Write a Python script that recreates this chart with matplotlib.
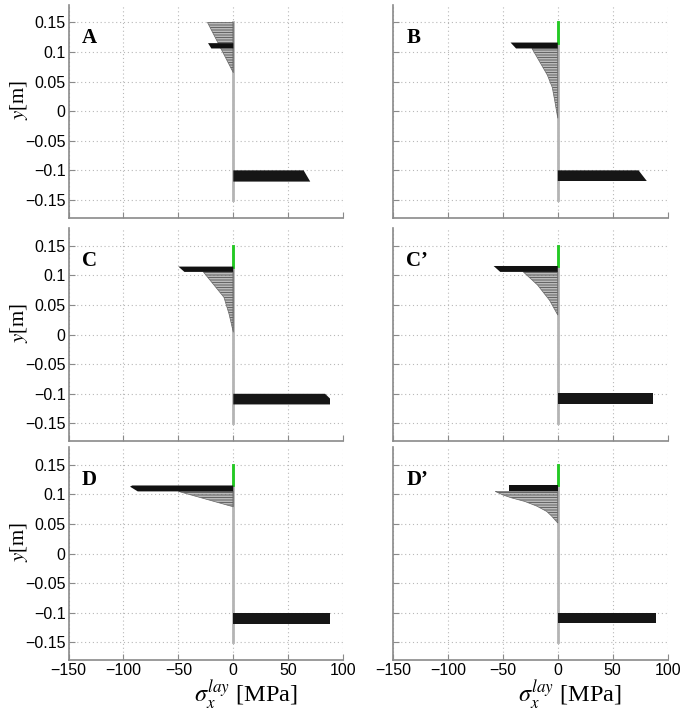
import matplotlib
matplotlib.use("Agg")
import matplotlib.pyplot as plt

# ── Data (y in m, stress in MPa) ────────────────────────────────────────────
panel_names = ["A", "B", "C", "C\u2019", "D", "D\u2019"]

# concrete compression profile (hatched region)
conc_y_A = [0.150, 0.065]
conc_s_A = [-23.5, 0.0]
conc_y_B = [0.106, 0.061, 0.040, 0.020, -0.012]
conc_s_B = [-23.5, -9.5, -5.0, -3.0, 0.0]
conc_y_C = [0.106, 0.063, 0.035, 0.004]
conc_s_C = [-27.3, -8.5, -3.9, 0.0]
conc_y_Cp = [0.106, 0.084, 0.058, 0.033]
conc_s_Cp = [-31.4, -18.5, -7.5, 0.0]
conc_y_D = [0.105, 0.093, 0.0815, 0.079]
conc_s_D = [-50.0, -27.0, -5.0, 0.0]
conc_y_Dp = [0.105, 0.099, 0.094, 0.088, 0.080, 0.071, 0.063, 0.0515]
conc_s_Dp = [-57.0, -50.0, -42.0, -30.0, -19.0, -10.0, -5.5, 0.0]

# top reinforcement layer
top_y_A = [0.115, 0.106]
top_s_A = [-23.0, -20.0]
top_y_B = [0.116, 0.106]
top_s_B = [-43.0, -38.0]
top_y_C = [0.115, 0.106]
top_s_C = [-50.0, -44.5]
top_y_Cp = [0.116, 0.106]
top_s_Cp = [-58.4, -52.4]
top_y_D = [0.115, 0.113, 0.105]
top_s_D = [-92.0, -94.0, -87.0]
top_y_Dp = [0.116, 0.105]
top_s_Dp = [-44.2, -44.2]

# bottom reinforcement layer
bot_y_A = [-0.100, -0.119]
bot_s_A = [64.0, 70.0]
bot_y_B = [-0.100, -0.118]
bot_s_B = [73.5, 81.0]
bot_y_C = [-0.100, -0.108, -0.118]
bot_s_C = [83.5, 88.0, 88.0]
bot_y_Cp = [-0.099, -0.117]
bot_s_Cp = [86.8, 86.8]
bot_y_D = [-0.101, -0.119]
bot_s_D = [88.0, 88.0]
bot_y_Dp = [-0.100, -0.118]
bot_s_Dp = [89.6, 89.6]

# unstressed top layer (green), None where absent
green_y = [None, (0.115, 0.150), (0.115, 0.150), (0.116, 0.150),
           (0.115, 0.150), (0.115, 0.150)]

x_ticks = [-150, -100, -50, 0, 50, 100]
x_ticklabels = ["\u2212150", "\u2212100", "\u221250", "0", "50", "100"]
y_ticks = [0.15, 0.1, 0.05, 0, -0.05, -0.1, -0.15]
y_ticklabels = ["0.15", "0.1", "0.05", "0", "\u22120.05", "\u22120.1", "\u22120.15"]

conc = [(conc_y_A, conc_s_A), (conc_y_B, conc_s_B), (conc_y_C, conc_s_C),
        (conc_y_Cp, conc_s_Cp), (conc_y_D, conc_s_D), (conc_y_Dp, conc_s_Dp)]
tops = [(top_y_A, top_s_A), (top_y_B, top_s_B), (top_y_C, top_s_C),
        (top_y_Cp, top_s_Cp), (top_y_D, top_s_D), (top_y_Dp, top_s_Dp)]
bots = [(bot_y_A, bot_s_A), (bot_y_B, bot_s_B), (bot_y_C, bot_s_C),
        (bot_y_Cp, bot_s_Cp), (bot_y_D, bot_s_D), (bot_y_Dp, bot_s_Dp)]

# ── Style ───────────────────────────────────────────────────────────────────
plt.rcParams["font.family"] = "sans-serif"
plt.rcParams["font.sans-serif"] = ["Liberation Sans", "DejaVu Sans"]
plt.rcParams["mathtext.fontset"] = "stix"
plt.rcParams["hatch.linewidth"] = 0.8
plt.rcParams["hatch.color"] = "#444444"

SPINE = "#8a8a8a"
GRID = "#b8b8b8"


def _profile(ax, ys, ss, **kw):
    """Closed polygon between the stress profile and the zero axis."""
    xs = [0.0] + list(ss) + [0.0]
    yy = [ys[0]] + list(ys) + [ys[-1]]
    ax.fill(xs, yy, **kw)


fig = plt.figure(figsize=(6.85, 7.10), dpi=100)
col_left = [0.100, 0.5737]
row_bottom = [0.6934, 0.3787, 0.0704]
width, height = 0.401, 0.300

for k, name in enumerate(panel_names):
    r, c = divmod(k, 2)
    ax = fig.add_axes([col_left[c], row_bottom[r], width, height])

    ax.set_xlim(-150, 100)
    ax.set_ylim(-0.18, 0.18)
    ax.set_xticks(x_ticks)
    ax.set_yticks(y_ticks)
    ax.grid(True, color=GRID, linestyle=(0, (1, 2.5)), linewidth=0.8)
    ax.set_axisbelow(True)
    for side in ("top", "right"):
        ax.spines[side].set_visible(False)
    for side in ("left", "bottom"):
        ax.spines[side].set_color(SPINE)
        ax.spines[side].set_linewidth(1.2)
    ax.tick_params(direction="in", length=4, color=SPINE, labelsize=11.5)
    ax.tick_params(axis="y", pad=2)
    ax.tick_params(axis="x", pad=2.5)

    if c == 0:
        ax.set_yticklabels(y_ticklabels)
        ax.text(-0.18, 0.555, r"$y$[m]", transform=ax.transAxes, rotation=90,
                ha="center", va="center", fontsize=15,
                fontname="Liberation Serif")
    else:
        ax.set_yticklabels([])
    if r == 2:
        ax.set_xticklabels(x_ticklabels)
        ax.text(0.645, -0.2, r"$\sigma_x^{lay}$ [MPa]", transform=ax.transAxes,
                ha="center", va="baseline", fontsize=17.5,
                fontname="Liberation Serif")
    else:
        ax.set_xticklabels([])

    # zero axis of the section
    ax.plot([0, 0], [-0.15, 0.15], color="#b4b4b4", linewidth=2, zorder=2)
    if green_y[k] is not None:
        ax.plot([0, 0], list(green_y[k]), color="#22cc22", linewidth=2, zorder=3)

    cy, cs = conc[k]
    _profile(ax, cy, cs, facecolor="none", edgecolor="#666666", linewidth=0.5,
             hatch="-" * 10, zorder=3)
    ty, ts = tops[k]
    _profile(ax, ty, ts, facecolor="#111111", linewidth=0, zorder=4)
    by, bs = bots[k]
    _profile(ax, by, bs, facecolor="#161616", linewidth=0, zorder=4)

    ax.text(-138, 0.116, name, ha="left", va="baseline", fontsize=15,
            fontweight="bold", fontname="Liberation Serif", zorder=5)

fig.savefig("out.png", dpi=100)
